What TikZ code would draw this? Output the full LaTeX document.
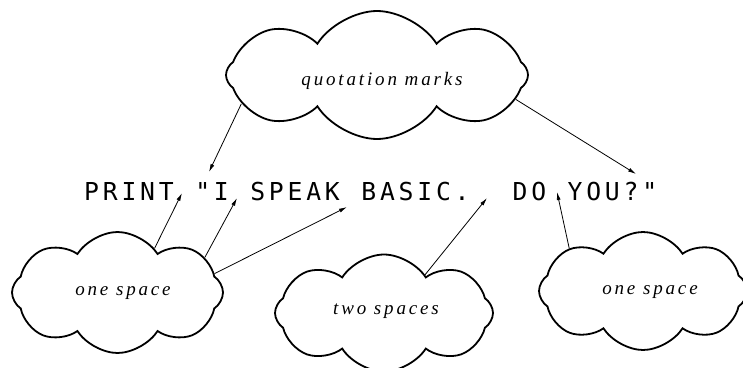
\documentclass[tikz,border=0pt]{standalone}
\usepackage{fontspec}
\usetikzlibrary{arrows.meta,shapes.symbols}
\newfontfamily\printfont{DejaVu Sans Mono}[LetterSpace=15.4]
\newfontfamily\notefont{Liberation Serif}[LetterSpace=15]

\begin{document}
\begin{tikzpicture}[x=1pt,y=-1pt,
  puff/.style={cloud,cloud ignores aspect,draw,line width=1.8pt,cloud puffs=8,cloud puff arc=115,inner sep=0pt},
  note/.style={inner sep=0pt,font=\notefont\itshape\fontsize{19}{22}\selectfont},
  link/.style={line width=0.8pt,-{Latex[length=8pt,width=4pt]}}]
\useasboundingbox (0,0) rectangle (743,367);
% the statement
\node[anchor=base west,inner sep=0pt,font=\printfont\fontsize{24.7}{26}\selectfont] (stmt) at (84,200)
  {\spaceskip=21.5pt PRINT "I SPEAK BASIC.\ \ DO YOU?"};
% clouds
\node[puff,minimum width=302pt,minimum height=128pt] (quot) at (377,75) {};
\node[puff,minimum width=211pt,minimum height=121pt] (oneL) at (117.5,292.5) {};
\node[puff,minimum width=218pt,minimum height=117pt] (two) at (384,313) {};
\node[puff,minimum width=208pt,minimum height=118pt] (oneR) at (643,291) {};
\node[note] (quotT) at (382,81) {quotation marks};
\node[note] (oneLT) at (123,293) {one space};
\node[note] (twoT) at (386,311) {two spaces};
\node[note] (oneRT) at (650,292) {one space};
% arrow tips
\coordinate (tq1) at (209,172);
\coordinate (tq2) at (636,174);
\coordinate (ts1) at (182,193);
\coordinate (ts2) at (237,198);
\coordinate (ts3) at (347,207);
\coordinate (tt) at (487,198);
\coordinate (to) at (557,192);
\draw[link] (quot.192) -- (tq1);
\draw[link] (quot.350) -- (tq2);
\draw[link] (oneL.50) -- (ts1);
\draw[link] (oneL.22) -- (ts2);
\draw[link] (oneL.11) -- (ts3);
\draw[link] (two.43) -- (tt);
\draw[link] (oneR.150) -- (to);
\end{tikzpicture}
\end{document}
